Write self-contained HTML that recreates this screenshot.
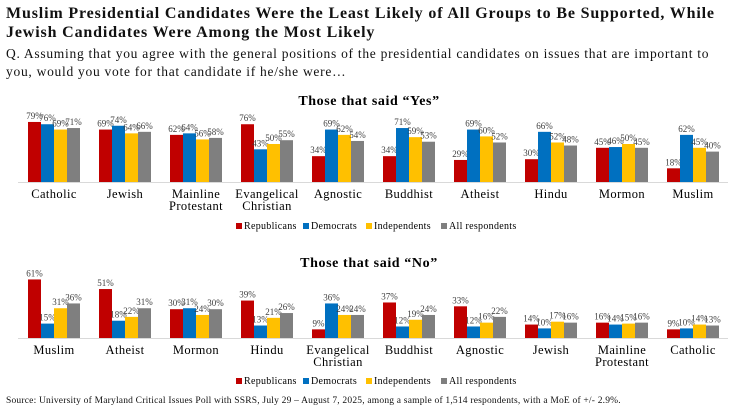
<!DOCTYPE html>
<html><head><meta charset="utf-8"><style>
body{margin:0;background:#fff;width:738px;height:418px;overflow:hidden;font-family:"Liberation Serif",serif;color:#111}
#title{position:absolute;left:6px;top:4px;font-weight:bold;font-size:16px;letter-spacing:0.85px;line-height:19px;width:730px;white-space:nowrap}
#q{position:absolute;left:6px;top:45px;font-size:13.5px;letter-spacing:0.72px;line-height:18px;width:730px;white-space:nowrap}
#src{position:absolute;left:6px;top:396px;font-size:9.5px;letter-spacing:0.2px;white-space:nowrap}
svg{position:absolute;left:0;top:0}
</style></head><body>
<div id="title">Muslim Presidential Candidates Were the Least Likely of All Groups to Be Supported, While<br>Jewish Candidates Were Among the Most Likely</div>
<div id="q">Q. Assuming that you agree with the general positions of the presidential candidates on issues that are important to<br>you, would you vote for that candidate if he/she were…</div>
<div id="src">Source: University of Maryland Critical Issues Poll with SSRS, July 29 – August 7, 2025, among a sample of 1,514 respondents, with a MoE of +/- 2.9%.</div>
<svg id="svg" width="738" height="418"></svg>
<script>
const yesCats=["Catholic","Jewish","Mainline|Protestant","Evangelical|Christian","Agnostic","Buddhist","Atheist","Hindu","Mormon","Muslim"];
const yesRep=[79,69,62,76,34,34,29,30,45,18];
const yesDem=[76,74,64,43,69,71,69,66,46,62];
const yesInd=[69,64,56,50,62,59,60,52,50,45];
const yesAll=[71,66,58,55,54,53,52,48,45,40];
const noCats=["Muslim","Atheist","Mormon","Hindu","Evangelical|Christian","Buddhist","Agnostic","Jewish","Mainline|Protestant","Catholic"];
const noRep=[61,51,30,39,9,37,33,14,16,9];
const noDem=[15,18,31,13,36,12,12,10,14,10];
const noInd=[31,22,24,21,24,19,16,17,15,14];
const noAll=[36,31,30,26,24,24,22,16,16,13];
const seriesNames=["Republicans","Democrats","Independents","All respondents"];
const colors=["#c00000","#0070c0","#ffc000","#7f7f7f"];
const NS="http://www.w3.org/2000/svg";
const svg=document.getElementById('svg');
function mk(t,a,txt){const e=document.createElementNS(NS,t);for(const k in a)e.setAttribute(k,a[k]);if(txt!==undefined)e.textContent=txt;svg.appendChild(e);return e;}
function chart(prefix,title,titleY,cats,series,base,scale,legendY){
  const t=mk('text',{x:369,y:titleY,'text-anchor':'middle','font-size':'14','font-weight':'bold','letter-spacing':'0.6','font-family':'Liberation Serif, serif'},title);
  
  
  const ax=mk('line',{x1:18,x2:728,y1:base+0.5,y2:base+0.5,stroke:'#d9d9d9','stroke-width':1});
  
  
  const xc=i=>54+71*i;
  cats.forEach((c,i)=>{
    series.forEach((s,j)=>{
      const v=s[i],h=v*scale,x=xc(i)-26+j*13;
      const r=mk('rect',{x:x,y:base-h,width:13,height:h,fill:colors[j]});
      
      
      const l=mk('text',{x:x+6.5,y:base-h-3,'text-anchor':'middle','font-size':'9',fill:'#404040'},v+'%');
      
      
    });
    c.split('|').forEach((ln,k)=>{
      const tl=mk('text',{x:xc(i),y:base+16+k*12,'text-anchor':'middle','font-size':'12.5','letter-spacing':'0.4'},ln);
      
      
    });
  });
  const lx=[236,303,366,441];
  seriesNames.forEach((n,j)=>{
    const sq=mk('rect',{x:lx[j],y:legendY-6,width:6,height:6,fill:colors[j]});
    
    
    const tx=mk('text',{x:lx[j]+8,y:legendY,'font-size':'10','letter-spacing':'0.3'},n);
    
    
  });
}
chart('yes','Those that said “Yes”',105,yesCats,[yesRep,yesDem,yesInd,yesAll],182,0.76,229);
chart('no','Those that said  “No”',267,noCats,[noRep,noDem,noInd,noAll],338,0.96,384);
</script>
</body></html>
